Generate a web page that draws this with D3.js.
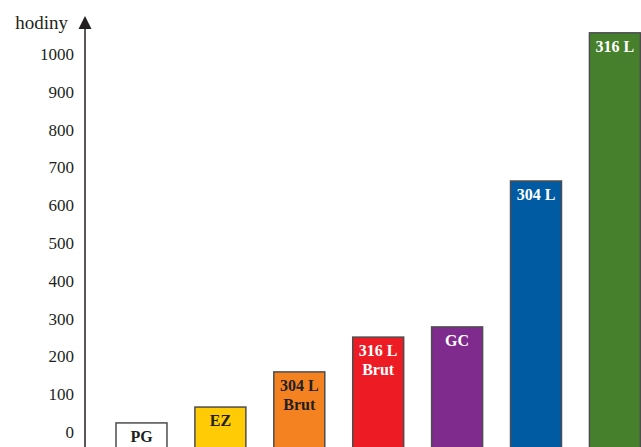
<!DOCTYPE html>
<html>
<head>
<meta charset="utf-8">
<script src="https://cdn.jsdelivr.net/npm/d3@7"></script>
<style>
  body { margin: 0; background: #fff; }
  text { font-family: "Liberation Serif", "DejaVu Serif", serif; }
</style>
</head>
<body>
<script>
// canvas size
var w = 641;
var h = 447;

// data
var categories = ["PG", "EZ", "304 L Brut", "316 L Brut", "GC", "304 L", "316 L"];
var labelLines = [["PG"], ["EZ"], ["304 L", "Brut"], ["316 L", "Brut"], ["GC"], ["304 L"], ["316 L"]];
var hours = [24, 66, 159, 251, 278, 664, 1056];
var tickValues = [0, 100, 200, 300, 400, 500, 600, 700, 800, 900, 1000];
var barColors = ["#ffffff", "#ffcb05", "#f58220", "#ed1c24", "#7f2a8d", "#005ba3", "#46802c"];
var textColors = ["#231f20", "#231f20", "#231f20", "#ffffff", "#ffffff", "#ffffff", "#ffffff"];

var axisX = 85;

// scales
var x = d3.scaleBand()
    .domain(categories)
    .range([116, 640.4])
    .paddingInner(0.354)
    .paddingOuter(0);

var y = d3.scaleLinear()
    .domain([0, 1000])
    .range([432, 54]);

var svg = d3.select("body")
    .append("svg")
    .attr("width", w)
    .attr("height", h);

// bars (they run off the bottom edge like in the original)
svg.selectAll("rect.bar")
    .data(hours)
    .enter()
    .append("rect")
    .attr("class", "bar")
    .attr("x", function(d, i) { return x(categories[i]); })
    .attr("y", function(d) { return y(d); })
    .attr("width", x.bandwidth())
    .attr("height", function(d) { return h + 5 - y(d); })
    .attr("fill", function(d, i) { return barColors[i]; })
    .attr("stroke", "#4d4d4f")
    .attr("stroke-width", 1.5);

// bar labels
var labels = svg.selectAll("text.lbl")
    .data(hours)
    .enter()
    .append("text")
    .attr("class", "lbl")
    .attr("text-anchor", "middle")
    .attr("font-size", 16)
    .attr("font-weight", "bold")
    .attr("fill", function(d, i) { return textColors[i]; });

labels.each(function(d, i) {
    var t = d3.select(this);
    labelLines[i].forEach(function(line, k) {
        t.append("tspan")
            .attr("x", x(categories[i]) + x.bandwidth() / 2)
            .attr("y", y(d) + 19 + k * 19)
            .text(line);
    });
});

// y axis labels, no tick marks
var yAxis = d3.axisLeft(y)
    .tickValues(tickValues)
    .tickFormat(d3.format("d"))
    .tickSize(0)
    .tickPadding(11);

var gAxis = svg.append("g")
    .attr("transform", "translate(" + axisX + ",0)")
    .call(yAxis);

gAxis.select(".domain").remove();
gAxis.selectAll("text")
    .attr("font-size", 17)
    .attr("fill", "#231f20")
    .style("font-family", "'Liberation Serif', serif");

// axis line with arrow
svg.append("line")
    .attr("x1", axisX)
    .attr("x2", axisX)
    .attr("y1", 26)
    .attr("y2", h)
    .attr("stroke", "#231f20")
    .attr("stroke-width", 1.5);

svg.append("path")
    .attr("d", "M" + axisX + ",16 L" + (axisX - 6.5) + ",29 L" + (axisX + 6.5) + ",29 Z")
    .attr("fill", "#231f20");

svg.append("text")
    .attr("x", 68)
    .attr("y", 29)
    .attr("text-anchor", "end")
    .attr("font-size", 19)
    .attr("fill", "#231f20")
    .text("hodiny");
</script>
</body>
</html>
